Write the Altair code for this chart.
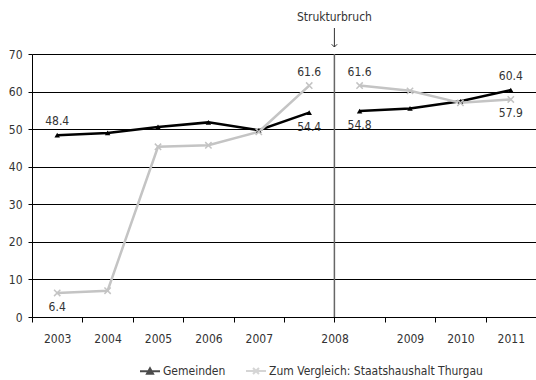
import altair as alt
import pandas as pd

# ---- data ----
slots = ["2003", "2004", "2005", "2006", "2007", "2008a", "2008b", "2009", "2010", "2011"]
segment = [1, 1, 1, 1, 1, 1, 2, 2, 2, 2]
gemeinden = [48.4, 49.0, 50.6, 51.8, 49.7, 54.4, 54.8, 55.5, 57.4, 60.4]
thurgau = [6.4, 7.0, 45.3, 45.7, 49.3, 61.6, 61.6, 60.2, 57.0, 57.9]
series_names = ["Gemeinden", "Zum Vergleich: Staatshaushalt Thurgau"]
series_colors = ["#000000", "#c4c4c4"]

label_slots = ["2003", "2008a", "2008b", "2011", "2003", "2008a", "2008b", "2011"]
label_series = [series_names[0]] * 4 + [series_names[1]] * 4
label_values = [48.4, 54.4, 54.8, 60.4, 6.4, 61.6, 61.6, 57.9]
label_pos = ["above", "below", "below", "above", "below", "above", "above", "below"]

y_ticks = [0, 10, 20, 30, 40, 50, 60, 70]
break_slot = "2008b"
annotation = "Strukturbruch"

rows = []
for i, s in enumerate(slots):
    rows.append({"slot": s, "value": gemeinden[i], "Serie": series_names[0], "seg": segment[i]})
    rows.append({"slot": s, "value": thurgau[i], "Serie": series_names[1], "seg": segment[i]})
df = pd.DataFrame(rows)
labels = pd.DataFrame({"slot": label_slots, "value": label_values,
                       "Serie": label_series, "pos": label_pos})
ann = pd.DataFrame({"slot": [break_slot], "txt": [annotation]})

FONT = "Liberation Sans Narrow, DejaVu Sans Condensed, Arial Narrow, sans-serif"
FS = 12
TXT = "#333333"
W, H = 504, 263

xscale = alt.Scale(type="band", domain=slots, paddingInner=0, paddingOuter=0)
xaxis = alt.Axis(
    title=None, labelAngle=0, tickBand="extent", grid=False,
    domainColor="#000000", tickColor="#000000", tickSize=5, labelPadding=11,
    labelFont=FONT, labelFontSize=FS, labelColor=TXT, labelOverlap=False,
    labelExpr="datum.value == '2008a' ? '' : (datum.value == '2008b' ? '2008' : datum.value)",
    labelOffset={"condition": {"test": "datum.value == '2008b'", "value": -25}, "value": 0},
)
yscale = alt.Scale(domain=[0, 70], nice=False, zero=True)
yaxis = alt.Axis(
    title=None, values=y_ticks, grid=True, gridColor="#000000", gridWidth=1,
    domainColor="#000000", tickColor="#000000", tickSize=4, labelPadding=6,
    labelFont=FONT, labelFontSize=FS, labelColor=TXT,
)

def X(bp=None):
    if bp is None:
        return alt.X("slot:O", scale=xscale, axis=xaxis)
    return alt.X("slot:O", scale=xscale, axis=xaxis, bandPosition=bp)

Y = alt.Y("value:Q", scale=yscale, axis=yaxis)
cscale = alt.Scale(domain=series_names, range=series_colors)

base = alt.Chart(df)

lines = base.mark_line(strokeWidth=2.5).encode(
    x=X(), y=Y,
    color=alt.Color("Serie:N", scale=cscale, legend=None),
    detail="seg:N",
)

tri = base.transform_filter(alt.datum.Serie == series_names[0]).mark_point(
    shape="triangle-up", filled=True, size=30, color=series_colors[0], opacity=1
).encode(x=X(), y=Y)

crs = base.transform_filter(alt.datum.Serie == series_names[1]).mark_point(
    shape="M-1,-1L1,1M-1,1L1,-1", filled=False, size=40, strokeWidth=1.5,
    color=series_colors[1], opacity=1
).encode(x=X(), y=Y)

leg = alt.Legend(
    title=None, orient="none", legendX=107, legendY=306, direction="horizontal",
    labelFont=FONT, labelFontSize=FS, labelColor=TXT, symbolSize=400, labelLimit=0,
    symbolStrokeWidth=2, labelOffset=2, columnPadding=16, padding=0,
)
legend_layer = base.transform_filter("false").mark_point(filled=True, strokeWidth=2).encode(
    x=X(), y=Y,
    color=alt.Color("Serie:N", scale=cscale, legend=leg),
    stroke=alt.Stroke("Serie:N", scale=cscale, legend=leg),
    shape=alt.Shape("Serie:N", scale=alt.Scale(
        domain=series_names,
        range=["M-1,0L1,0M-0.3,0.25L0,-0.3L0.3,0.25Z",
               "M-1,0L1,0M-0.3,-0.3L0.3,0.3M-0.3,0.3L0.3,-0.3"]), legend=leg),
)

lab_up = alt.Chart(labels).transform_filter(alt.datum.pos == "above").mark_text(
    dy=-14, font=FONT, fontSize=FS, color=TXT, baseline="middle"
).encode(x=X(), y=Y, text=alt.Text("value:Q", format=".1f"))
lab_dn = alt.Chart(labels).transform_filter(alt.datum.pos == "below").mark_text(
    dy=14, font=FONT, fontSize=FS, color=TXT, baseline="middle"
).encode(x=X(), y=Y, text=alt.Text("value:Q", format=".1f"))

vline = alt.Chart(ann).mark_rule(color="#666666", strokeWidth=1.5).encode(x=X(0))
ann_text = alt.Chart(ann).mark_text(font=FONT, fontSize=FS, color=TXT, baseline="middle").encode(
    x=X(0), y=alt.value(-37), text="txt:N")
arrow = alt.Chart(ann).mark_rule(color=TXT, strokeWidth=1).encode(
    x=X(0), y=alt.value(-26), y2=alt.value(-7))
head = alt.Chart(ann).mark_point(shape="M-1,-1L0,0L1,-1", filled=False, size=30,
                                 strokeWidth=1, color=TXT, opacity=1).encode(
    x=X(0), y=alt.value(-7))

chart = alt.layer(vline, lines, tri, crs, legend_layer, lab_up, lab_dn, ann_text, arrow, head).resolve_legend(
    color="independent", stroke="independent", shape="independent"
).properties(
    width=W, height=H,
    autosize=alt.AutoSizeParams(type="none"),
    padding={"left": 32, "top": 54, "right": 0, "bottom": 63},
).configure_view(stroke=None).configure(background="white")

chart.save("out.html", embed_options={"renderer": "svg", "actions": False})
